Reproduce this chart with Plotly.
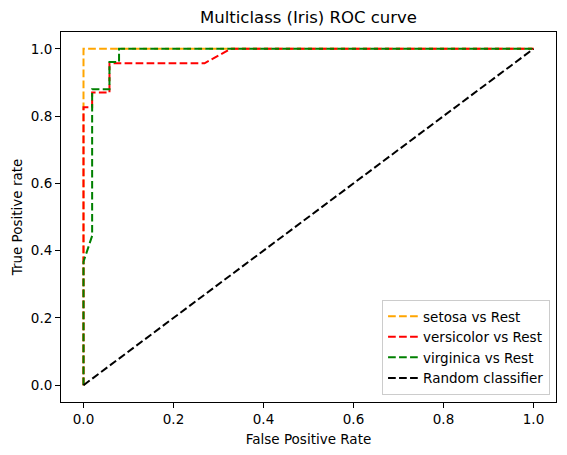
import plotly.graph_objects as go

# Data
setosa_fpr = [0.0, 0.0, 1.0]
setosa_tpr = [0.0, 1.0, 1.0]

versicolor_fpr = [0.0, 0.0, 0.0192, 0.0192, 0.0577, 0.0577, 0.269, 0.327, 1.0]
versicolor_tpr = [0.0, 0.826, 0.826, 0.870, 0.870, 0.957, 0.957, 1.0, 1.0]

virginica_fpr = [0.0, 0.0, 0.0192, 0.0192, 0.0577, 0.0577, 0.079, 0.079, 1.0]
virginica_tpr = [0.0, 0.367, 0.444, 0.880, 0.880, 0.961, 0.961, 1.0, 1.0]

random_fpr = [0.0, 1.0]
random_tpr = [0.0, 1.0]

series = [
    ("setosa vs Rest", setosa_fpr, setosa_tpr, "#FFA500"),
    ("versicolor vs Rest", versicolor_fpr, versicolor_tpr, "#FF0000"),
    ("virginica vs Rest", virginica_fpr, virginica_tpr, "#008000"),
    ("Random classifier", random_fpr, random_tpr, "#000000"),
]

tick_vals = [0.0, 0.2, 0.4, 0.6, 0.8, 1.0]
tick_text = ["0.0", "0.2", "0.4", "0.6", "0.8", "1.0"]

font_family = "DejaVu Sans"

# page body has an 8px default margin; compensate so marks land where the reference has them
W, H = 559, 447

fig = go.Figure()
for name, x, y, color in series:
    fig.add_trace(go.Scatter(
        x=x, y=y, mode="lines", name=name,
        line=dict(color=color, width=2, dash="7.7px,3.3px"),
    ))

axis_common = dict(
    range=[-0.05, 1.05],
    tickvals=tick_vals,
    ticktext=tick_text,
    showgrid=False,
    zeroline=False,
    showline=True,
    linecolor="black",
    linewidth=1,
    mirror=True,
    ticks="outside",
    ticklen=5,
    tickwidth=1,
    tickcolor="black",
    automargin=False,
    tickfont=dict(family=font_family, size=13.5, color="black"),
)

fig.update_layout(
    width=W,
    height=H,
    margin=dict(l=53, r=11, t=24, b=53, autoexpand=False),
    plot_bgcolor="white",
    paper_bgcolor="white",
    font=dict(family=font_family, color="black"),
    title=dict(
        text="Multiclass (Iris) ROC curve",
        font=dict(family=font_family, size=16.5, color="black"),
        x=0.5, xref="paper", xanchor="center",
        y=1 - 9 / H, yref="container", yanchor="middle",
    ),
    xaxis=dict(
        **axis_common,
        title=dict(text="False Positive Rate", standoff=8,
                   font=dict(family=font_family, size=13.5, color="black")),
    ),
    yaxis=dict(
        **axis_common,
        title=dict(text="True Positive rate", standoff=5,
                   font=dict(family=font_family, size=13.5, color="black")),
    ),
    legend=dict(
        x=0.988, y=0.019, xanchor="right", yanchor="bottom",
        bgcolor="rgba(255,255,255,0.8)",
        bordercolor="#cccccc", borderwidth=1,
        font=dict(family=font_family, size=13.5, color="black"),
        tracegroupgap=0,
        entrywidth=128, entrywidthmode="pixels",
    ),
)

fig.write_html("out.html")
